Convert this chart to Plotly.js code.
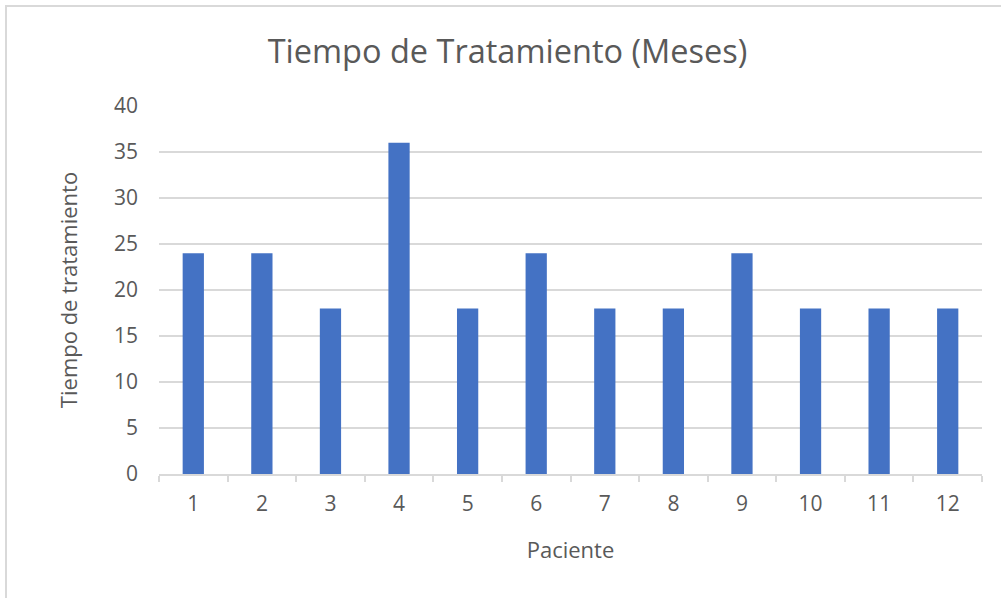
<!DOCTYPE html>
<html>
<head>
<meta charset="utf-8">
<script src="https://cdn.plot.ly/plotly-3.0.1.min.js"></script>
<style>
html,body{margin:0;padding:0;background:#fff;overflow:hidden;}
#chart{width:1001px;height:598px;position:absolute;left:0;top:0;}
#frame{position:absolute;left:5px;top:5px;width:1100px;height:700px;border:2px solid #d9d9d9;pointer-events:none;}
</style>
</head>
<body>
<div id="chart"></div>
<div id="frame"></div>
<script>
var pacientes = ["1","2","3","4","5","6","7","8","9","10","11","12"];
var meses = [24,24,18,36,18,24,18,18,24,18,18,18];
var yTicks = [0,5,10,15,20,25,30,35,40];

var font = "'Open Sans', 'Noto Sans', sans-serif";
var trace = {
  type: "bar",
  x: pacientes,
  y: meses,
  marker: {color: "#4472c4"},
  hoverinfo: "x+y"
};
var layout = {
  width: 1001, height: 598,
  margin: {l: 159, r: 19, t: 106, b: 124},
  paper_bgcolor: "rgba(0,0,0,0)",
  plot_bgcolor: "#fff",
  bargap: 0.69,
  showlegend: false,
  title: {text: "Tiempo de Tratamiento (Meses)", font: {family: font, size: 32.5, color: "#595959"}, x: 0.507, xanchor: "center", y: 0.913, yanchor: "middle"},
  xaxis: {
    type: "category",
    title: {text: "Paciente", font: {family: font, size: 22, color: "#595959"}, standoff: 26},
    tickfont: {family: font, size: 21, color: "#595959"},
    showline: true, linecolor: "#d9d9d9", linewidth: 2,
    ticks: "outside", tickson: "boundaries", ticklen: 6, tickcolor: "#d9d9d9", tickwidth: 2,
    showgrid: false, zeroline: false, ticklabelstandoff: 10
  },
  yaxis: {
    range: [0, 40],
    tickvals: yTicks,
    title: {text: "Tiempo de tratamiento", font: {family: font, size: 22, color: "#595959"}, standoff: 30},
    tickfont: {family: font, size: 21, color: "#595959"},
    showgrid: true, gridcolor: "#d9d9d9", gridwidth: 2,
    zeroline: false, showline: false, ticks: "", ticklabelstandoff: 20
  }
};
Plotly.newPlot("chart", [trace], layout, {displayModeBar: false, staticPlot: true});
</script>
</body>
</html>
